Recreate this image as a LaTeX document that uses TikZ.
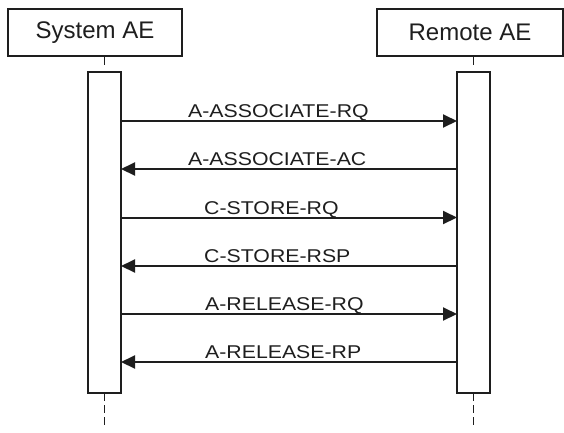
\documentclass[tikz,border=0pt]{standalone}
\usepackage{fontspec}
\setmainfont{Liberation Sans}
\usetikzlibrary{arrows.meta}
\definecolor{ink}{HTML}{1E1E1E}
\tikzset{
  header/.style={draw=ink, line width=2.2pt, rectangle, outer sep=0pt, inner sep=0pt, font=\fontsize{24}{28}\selectfont, text=ink},
  activation/.style={draw=ink, line width=2.2pt, rectangle, outer sep=0pt, inner sep=0pt, minimum width=33pt, minimum height=321pt, fill=white},
  msg/.style={draw=ink, line width=2pt, -{Triangle[length=14pt,width=13pt]}},
  msglabel/.style={anchor=base west, inner sep=0pt, text=ink, font=\fontsize{18.5}{20}\selectfont},
  lifedash/.style={draw=ink, line width=1.6pt, dash pattern=on 9pt off 20pt}
}
\newcommand{\wide}[1]{\scalebox{1.15}[1]{#1}}
\begin{document}
\begin{tikzpicture}[x=1pt, y=-1pt]
\useasboundingbox (0,0) rectangle (564,432);
\fill[white] (0,0) rectangle (564,432);
% headers
\node[header, minimum width=174pt, minimum height=47pt] (sys) at (95,32.5) {System AE};
\node[header, minimum width=186pt, minimum height=47pt] (rem) at (470,32.5) {Remote AE};
% activation boxes
\node[activation] (sysl) at (104.5,232.5) {};
\node[activation] (reml) at (473.5,232.5) {};
% lifeline dashes
\draw[lifedash] (sysl.north |- sys.south) -- (sysl.north);
\draw[lifedash] (reml.north |- rem.south) -- (reml.north);
\draw[lifedash, dash pattern=on 8pt off 4pt] (sysl.south) -- ++(0,35);
\draw[lifedash, dash pattern=on 8pt off 4pt] (reml.south) -- ++(0,35);
% messages
\draw[msg] (sysl.east |- 0,121) -- (reml.west |- 0,121);
\node[msglabel] (l1) at (188,117) {\wide{A-ASSOCIATE-RQ}};
\draw[msg] (reml.west |- 0,169) -- (sysl.east |- 0,169);
\node[msglabel] (l2) at (188,165) {\wide{A-ASSOCIATE-AC}};
\draw[msg] (sysl.east |- 0,217.5) -- (reml.west |- 0,217.5);
\node[msglabel] (l3) at (204,214) {\wide{C-STORE-RQ}};
\draw[msg] (reml.west |- 0,266) -- (sysl.east |- 0,266);
\node[msglabel] (l4) at (204,262) {\wide{C-STORE-RSP}};
\draw[msg] (sysl.east |- 0,314) -- (reml.west |- 0,314);
\node[msglabel] (l5) at (205,310) {\wide{A-RELEASE-RQ}};
\draw[msg] (reml.west |- 0,362) -- (sysl.east |- 0,362);
\node[msglabel] (l6) at (205,358) {\wide{A-RELEASE-RP}};
\end{tikzpicture}
\end{document}
